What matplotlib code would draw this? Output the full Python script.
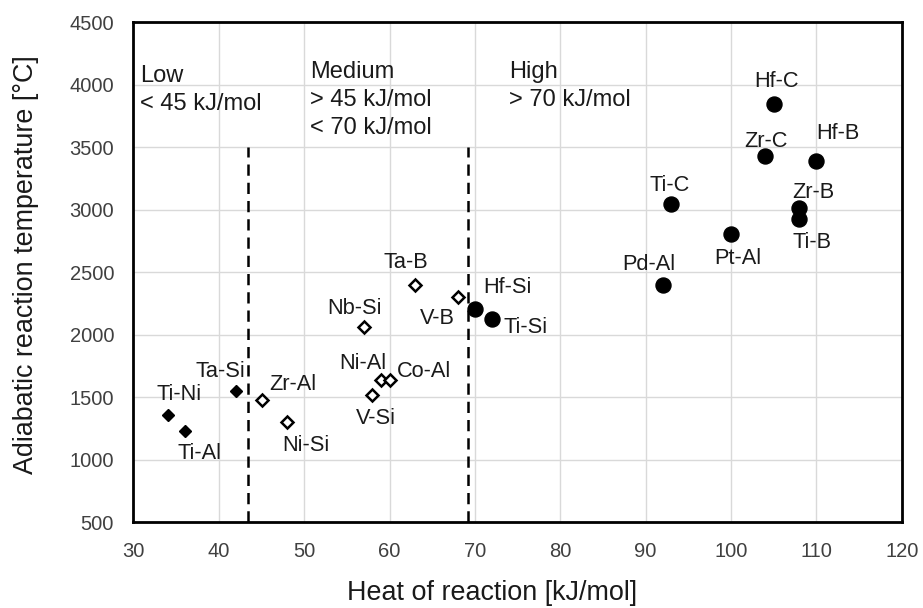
import matplotlib
matplotlib.use("Agg")
import matplotlib.pyplot as plt

plt.rcParams['font.family'] = ['Liberation Sans', 'DejaVu Sans']

# Low-exothermic systems (filled diamonds)
low_names = ["Ti-Ni", "Ti-Al", "Ta-Si"]
low_heat = [34, 36, 42]
low_temp = [1360, 1230, 1550]

# Medium-exothermic systems (open diamonds)
med_names = ["Zr-Al", "Ni-Si", "Ta-B", "V-B", "Nb-Si", "Ni-Al", "Co-Al", "V-Si"]
med_heat = [45, 48, 63, 68, 57, 59, 60, 58]
med_temp = [1480, 1300, 2400, 2300, 2065, 1640, 1640, 1520]

# High-exothermic systems (filled circles)
high_names = ["Hf-Si", "Ti-Si", "Hf-C", "Zr-C", "Hf-B", "Ti-C", "Zr-B", "Ti-B",
              "Pt-Al", "Pd-Al"]
high_heat = [70, 72, 105, 104, 110, 93, 108, 108, 100, 92]
high_temp = [2210, 2130, 3850, 3430, 3390, 3050, 3015, 2930, 2810, 2400]

# Region boundaries
boundaries = [43.4, 69.2]
boundary_top = 3500

# Label centre offsets in pixels (right, down) from each marker
offsets = {
    "Ti-Ni": (11, -23), "Ti-Al": (15, 20), "Ta-Si": (-16, -22),
    "Zr-Al": (31, -18), "Ni-Si": (19, 21), "Ta-B": (-9, -25),
    "V-B": (-21, 19), "Nb-Si": (-9, -20), "Ni-Al": (-18, -19),
    "Co-Al": (34, -11), "V-Si": (3, 21), "Hf-Si": (33, -23),
    "Ti-Si": (34, 7), "Hf-C": (3, -24), "Zr-C": (1, -17),
    "Hf-B": (21, -30), "Ti-C": (-2, -20), "Zr-B": (14, -18),
    "Ti-B": (13, 22), "Pt-Al": (7, 23), "Pd-Al": (-14, -23),
}

LABEL_SIZE = 15.7
CAP_HALF = 0.358 * LABEL_SIZE * 100 / 72  # half cap height in pixels

fig = plt.figure(figsize=(9.23, 6.08), dpi=100)
ax = fig.add_axes([0.1446, 0.141, 0.8324, 0.8223])

ax.set_xlim(30, 120)
ax.set_ylim(500, 4500)
ax.set_xticks(range(30, 121, 10))
ax.set_yticks(range(500, 4501, 500))
ax.grid(True, color='#d9d9d9', linewidth=1.0)
ax.set_axisbelow(True)

for s in ax.spines.values():
    s.set_linewidth(2.0)
    s.set_color('black')

ax.tick_params(length=0, labelsize=14.5, labelcolor='#404040')
ax.tick_params(axis='x', pad=14)
ax.tick_params(axis='y', pad=14)

for xb in boundaries:
    ax.plot([xb, xb], [500, boundary_top], color='black', linestyle=(0, (4.5, 2.8)),
            linewidth=1.8, zorder=2)

ax.plot(low_heat, low_temp, linestyle='none', marker='D', markersize=6.6,
        color='black', zorder=3)
ax.plot(med_heat, med_temp, linestyle='none', marker='D', markersize=5.8,
        markerfacecolor='white', markeredgecolor='black', markeredgewidth=1.8,
        zorder=3)
ax.plot(high_heat, high_temp, linestyle='none', marker='o', markersize=10.8,
        color='black', zorder=3)

for names, xs, ys in ((low_names, low_heat, low_temp),
                      (med_names, med_heat, med_temp),
                      (high_names, high_heat, high_temp)):
    for n, x, y in zip(names, xs, ys):
        dx, dy = offsets[n]
        ax.annotate(n, (x, y), xytext=(dx, -(dy + CAP_HALF)),
                    textcoords='offset pixels', ha='center', va='baseline',
                    fontsize=LABEL_SIZE, color='#1a1a1a')

# Region captions, one line per baseline
region_kw = dict(fontsize=17, color='#1a1a1a', va='baseline', ha='left')
ax.text(30.76, 4026, "Low", **region_kw)
ax.text(30.76, 3798, "< 45 kJ/mol", **region_kw)
ax.text(50.68, 4058, "Medium", **region_kw)
ax.text(50.68, 3830, "> 45 kJ/mol", **region_kw)
ax.text(50.68, 3606, "< 70 kJ/mol", **region_kw)
ax.text(74.0, 4058, "High", **region_kw)
ax.text(74.0, 3830, "> 70 kJ/mol", **region_kw)

fig.text(492 / 923, 8 / 608, "Heat of reaction [kJ/mol]", fontsize=19.4,
         color='#1a1a1a', ha='center', va='baseline')
fig.text(33 / 923, 1 - 265 / 608, "Adiabatic reaction temperature [°C]",
         fontsize=19.4, color='#1a1a1a', rotation=90, rotation_mode='anchor',
         ha='center', va='baseline')

fig.savefig("out.png", dpi=100)
